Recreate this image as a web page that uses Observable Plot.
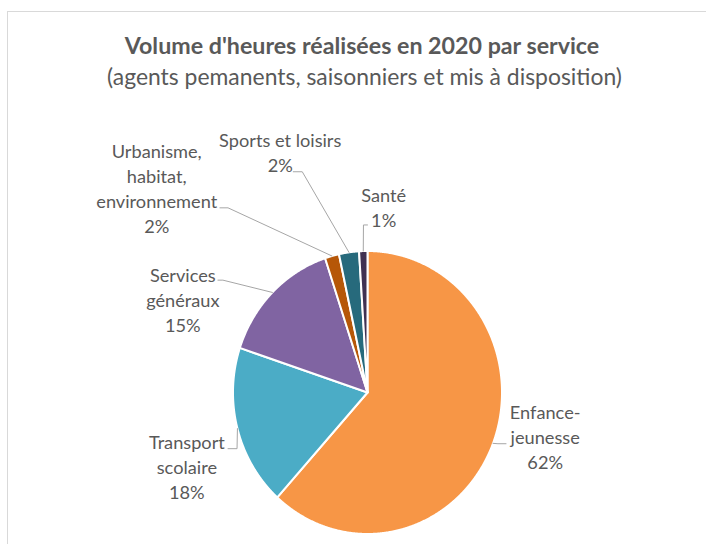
<!DOCTYPE html>
<html><head><meta charset="utf-8">
<script src="https://cdn.jsdelivr.net/npm/d3@7"></script>
<script src="https://cdn.jsdelivr.net/npm/@observablehq/plot@0.6"></script>
<style>
html,body{margin:0;padding:0;background:#fff;overflow:hidden;width:706px;height:544px}
#frame{position:absolute;left:7px;top:11px;width:760px;height:600px;border:1px solid #d9d9d9;box-sizing:border-box}
#chart{position:absolute;left:0;top:0}
.ttl{position:absolute;left:0;text-align:center;color:#595959;font-family:Lato;white-space:nowrap;line-height:1}
</style></head><body>
<div id="frame"></div>
<div class="ttl" id="t1">Volume d'heures réalisées en 2020 par service</div>
<div class="ttl" id="t2">(agents pemanents, saisonniers et mis à disposition)</div>
<div id="chart"></div>
<script>
// ---- data ----
const services = ["Enfance-jeunesse", "Transport scolaire", "Services généraux", "Urbanisme, habitat, environnement", "Sports et loisirs", "Santé"];
const shares = [61.7, 18.4, 14.8, 1.7, 2.4, 1.0];
const labelLines = [["Enfance-", "jeunesse"], ["Transport", "scolaire"], ["Services", "généraux"], ["Urbanisme,", "habitat,", "environnement"], ["Sports et loisirs"], ["Santé"]];
const colors = ["#F79646", "#4BACC6", "#8064A2", "#B65708", "#276A7C", "#403152"];

// ---- layout (normalized pie units) ----
const labelAt = [[1.321, -0.539], [-1.343, -0.752], [-1.373, 0.428], [-1.567, 1.128], [-0.649, 1.560], [0.12, 1.170]];
const leaderElbow = [[0.970, -0.362], [-0.970, -0.397], [-1.075, 0.794], [-1.037, 1.305], [-0.485, 1.560], [-0.030, 1.184]];
const leaderTail = [[1.030, -0.362], [-1.037, -0.397], [-1.112, 0.794], [-1.097, 1.305], [-0.552, 1.560], [0.0, 1.184]];

const ctx = document.createElement("canvas").getContext("2d");
function fit(text, weight, target) { ctx.font = `${weight} 100px Lato`; return 100 * target / ctx.measureText(text).width; }

const titleSize = fit("Volume d'heures réalisées en 2020 par service", "bold", 475);
const subSize = fit("(agents pemanents, saisonniers et mis à disposition)", "normal", 515);
const labelSize = (fit("Transport", "normal", 77) + fit("Sports et loisirs", "normal", 120) + fit("généraux", "normal", 73) + fit("jeunesse", "normal", 70)) / 4;

const t1 = document.getElementById("t1");
t1.style.cssText = `font-weight:bold;font-size:${titleSize}px;width:724px;top:${53 - 0.8 * titleSize}px`;
const t2 = document.getElementById("t2");
t2.style.cssText = `font-size:${subSize}px;width:729px;top:${83 - 0.8 * subSize}px`;

const rows = services.map((name, i) => ({name, share: shares[i]}));
const arcs = d3.pie().sort(null).value(d => d.share)(rows);

const slicePts = arcs.flatMap(a => {
  const name = a.data.name;
  const n = Math.max(4, Math.ceil((a.endAngle - a.startAngle) / 0.004));
  const pts = [{name, x: 0, y: 0}];
  for (let k = 0; k <= n; ++k) {
    const t = a.startAngle + (a.endAngle - a.startAngle) * k / n;
    pts.push({name, x: Math.sin(t), y: Math.cos(t)});
  }
  return pts;
});

const leaderPts = arcs.flatMap((a, i) => {
  const m = (a.startAngle + a.endAngle) / 2;
  const name = a.data.name;
  return [
    {name, x: Math.sin(m), y: Math.cos(m)},
    {name, x: leaderElbow[i][0], y: leaderElbow[i][1]},
    {name, x: leaderTail[i][0], y: leaderTail[i][1]}
  ];
});

const labels = arcs.map((a, i) => ({
  x: labelAt[i][0], y: labelAt[i][1],
  text: [...labelLines[i], Math.round(a.data.share) + "%"].join("\n")
}));

const chart = Plot.plot({
  width: 706, height: 544, margin: 0,
  style: {background: "transparent", overflow: "visible"},
  x: {domain: [-1, 1], range: [232.5, 501.5], axis: null},
  y: {domain: [-1, 1], range: [533.5, 250.5], axis: null},
  color: {domain: services, range: colors},
  marks: [
    Plot.line(slicePts, {x: "x", y: "y", z: "name", fill: "name", stroke: "white", strokeWidth: 2, strokeLinejoin: "round", curve: "linear-closed"}),
    Plot.line(leaderPts, {x: "x", y: "y", z: "name", stroke: "#a6a6a6", strokeWidth: 1}),
    Plot.text(labels, {x: "x", y: "y", text: "text", lineAnchor: "bottom", lineHeight: 25 / labelSize, fontSize: labelSize, fontFamily: "Lato", fill: "#595959", textAnchor: "middle"})
  ]
});
document.getElementById("chart").append(chart);
</script>
</body></html>
